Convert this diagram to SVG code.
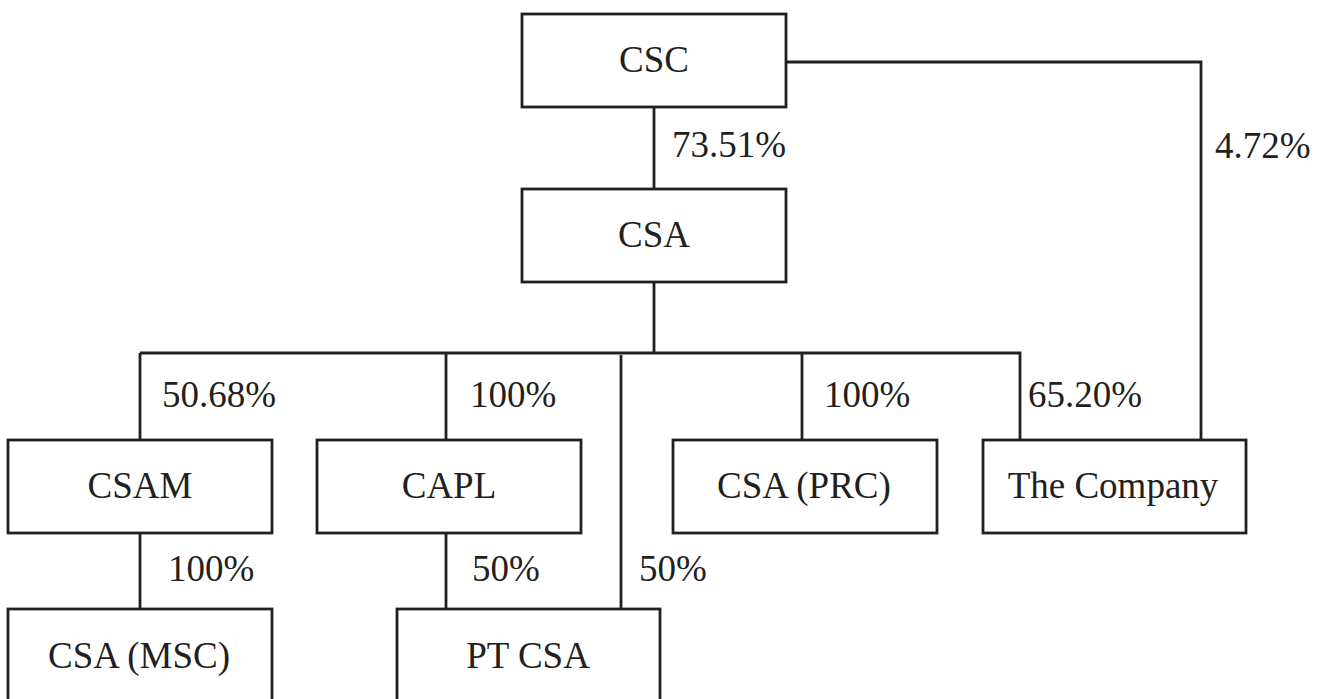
<svg xmlns="http://www.w3.org/2000/svg" width="1327" height="699" viewBox="0 0 1327 699">
<style>
.box{fill:#fff;stroke:#231f20;stroke-width:2.8}
.ln{fill:none;stroke:#231f20;stroke-width:2.8}
text{font-family:'Liberation Serif','DejaVu Serif',serif;font-size:37px;fill:#231f20}
.c{text-anchor:middle}
</style>
<rect width="1327" height="699" fill="#fff"/>
<g id="connectors">
<path class="ln" d="M654 107V189"/>
<path class="ln" d="M654 282V353"/>
<path class="ln" d="M140 353H1020V440"/>
<path class="ln" d="M140 353V440"/>
<path class="ln" d="M446 353V440"/>
<path class="ln" d="M802 353V440"/>
<path class="ln" d="M621 355V609"/>
<path class="ln" d="M786 62H1201V440"/>
<path class="ln" d="M140 533V609"/>
<path class="ln" d="M446 533V609"/>
<text x="672" y="157">73.51%</text>
<text x="1215" y="158">4.72%</text>
<text x="162" y="407">50.68%</text>
<text x="470" y="407">100%</text>
<text x="824" y="407">100%</text>
<text x="1028" y="407">65.20%</text>
<text x="168" y="581">100%</text>
<text x="472" y="581">50%</text>
<text x="639" y="581">50%</text>
</g>
<g id="csc"><rect class="box" x="522" y="14" width="264" height="93"/><text class="c" x="654" y="72">CSC</text></g>
<g id="csa"><rect class="box" x="522" y="189" width="264" height="93"/><text class="c" x="654" y="247">CSA</text></g>
<g id="csam"><rect class="box" x="8" y="440" width="264" height="93"/><text class="c" x="140" y="498">CSAM</text></g>
<g id="capl"><rect class="box" x="317" y="440" width="264" height="93"/><text class="c" x="449" y="498">CAPL</text></g>
<g id="csa-prc"><rect class="box" x="673" y="440" width="264" height="93"/><text class="c" x="804" y="498">CSA (PRC)</text></g>
<g id="company"><rect class="box" x="983" y="440" width="263" height="93"/><text class="c" x="1113" y="498">The Company</text></g>
<g id="csa-msc"><rect class="box" x="8" y="609" width="264" height="100"/><text class="c" x="139" y="668">CSA (MSC)</text></g>
<g id="pt-csa"><rect class="box" x="397" y="609" width="263" height="100"/><text class="c" x="528" y="668">PT CSA</text></g>
</svg>
